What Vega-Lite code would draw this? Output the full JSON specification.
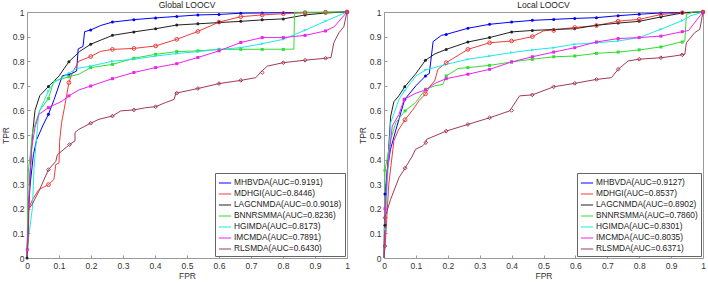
{
"$schema":"https://vega.github.io/schema/vega-lite/v6.json",
"padding":{"left":0,"top":0,"right":0,"bottom":0},
"background":"white",
"spacing":5,
"config":{
 "font":"Liberation Sans",
 "view":{"stroke":"#9a9a9a"},
 "axis":{"labelFont":"Liberation Sans","labelFontSize":8.5,"labelColor":"#333","titleFont":"Liberation Sans","titleFontSize":8.5,"titleFontWeight":"normal","titleColor":"#333","domainColor":"#9a9a9a","tickColor":"#9a9a9a","grid":false,"tickSize":-3,"labelPadding":6,"labelOverlap":false,"labelBound":false,"labelFlush":false},
 "axisX":{"titlePadding":2},
 "axisY":{"titlePadding":2},
 "title":{"fontSize":8.5,"font":"Liberation Sans","fontWeight":"normal","color":"#222","offset":-1.5},
 "legend":{"orient":"bottom-right","offset":2,"strokeColor":"#666","fillColor":"white","padding":3,"symbolType":"stroke","symbolSize":150,"symbolStrokeWidth":1,"labelFontSize":8.3,"labelFont":"Liberation Sans","labelColor":"#222","rowPadding":-1.5,"labelOffset":2,"title":null}
},
"datasets":{
"gAuc":[{"s":"MHBVDA","lab":"MHBVDA(AUC=0.9191)"},{"s":"MDHGI","lab":"MDHGI(AUC=0.8446)"},{"s":"LAGCNMDA","lab":"LAGCNMDA(AUC=0.0.9018)"},{"s":"BNNRSMMA","lab":"BNNRSMMA(AUC=0.8236)"},{"s":"HGIMDA","lab":"HGIMDA(AUC=0.8173)"},{"s":"IMCMDA","lab":"IMCMDA(AUC=0.7891)"},{"s":"RLSMDA","lab":"RLSMDA(AUC=0.6430)"}],
"lAuc":[{"s":"MHBVDA","lab":"MHBVDA(AUC=0.9127)"},{"s":"MDHGI","lab":"MDHGI(AUC=0.8537)"},{"s":"LAGCNMDA","lab":"LAGCNMDA(AUC=0.8902)"},{"s":"BNNRSMMA","lab":"BNNRSMMA(AUC=0.7860)"},{"s":"HGIMDA","lab":"HGIMDA(AUC=0.8301)"},{"s":"IMCMDA","lab":"IMCMDA(AUC=0.8035)"},{"s":"RLSMDA","lab":"RLSMDA(AUC=0.6371)"}],
"gLine":[
{"s":"MHBVDA","x":0,"y":0},{"s":"MHBVDA","x":0.005,"y":0.2},{"s":"MHBVDA","x":0.01,"y":0.3},{"s":"MHBVDA","x":0.02,"y":0.42},{"s":"MHBVDA","x":0.03,"y":0.48},{"s":"MHBVDA","x":0.05,"y":0.54},{"s":"MHBVDA","x":0.067,"y":0.584},{"s":"MHBVDA","x":0.085,"y":0.645},{"s":"MHBVDA","x":0.11,"y":0.74},{"s":"MHBVDA","x":0.14,"y":0.75},{"s":"MHBVDA","x":0.155,"y":0.76},{"s":"MHBVDA","x":0.16,"y":0.85},{"s":"MHBVDA","x":0.175,"y":0.86},{"s":"MHBVDA","x":0.18,"y":0.92},{"s":"MHBVDA","x":0.199,"y":0.927},{"s":"MHBVDA","x":0.23,"y":0.945},{"s":"MHBVDA","x":0.267,"y":0.959},{"s":"MHBVDA","x":0.334,"y":0.969},{"s":"MHBVDA","x":0.402,"y":0.976},{"s":"MHBVDA","x":0.468,"y":0.982},{"s":"MHBVDA","x":0.534,"y":0.988},{"s":"MHBVDA","x":0.6,"y":0.99},{"s":"MHBVDA","x":0.668,"y":0.995},{"s":"MHBVDA","x":0.8,"y":0.997},{"s":"MHBVDA","x":0.93,"y":0.998},{"s":"MHBVDA","x":1,"y":1},
{"s":"MDHGI","x":0,"y":0},{"s":"MDHGI","x":0.002,"y":0.1},{"s":"MDHGI","x":0.004,"y":0.197},{"s":"MDHGI","x":0.017,"y":0.237},{"s":"MDHGI","x":0.037,"y":0.278},{"s":"MDHGI","x":0.067,"y":0.298},{"s":"MDHGI","x":0.084,"y":0.319},{"s":"MDHGI","x":0.09,"y":0.38},{"s":"MDHGI","x":0.1,"y":0.386},{"s":"MDHGI","x":0.102,"y":0.474},{"s":"MDHGI","x":0.108,"y":0.55},{"s":"MDHGI","x":0.116,"y":0.604},{"s":"MDHGI","x":0.131,"y":0.713},{"s":"MDHGI","x":0.142,"y":0.754},{"s":"MDHGI","x":0.162,"y":0.8},{"s":"MDHGI","x":0.199,"y":0.819},{"s":"MDHGI","x":0.23,"y":0.84},{"s":"MDHGI","x":0.267,"y":0.848},{"s":"MDHGI","x":0.334,"y":0.852},{"s":"MDHGI","x":0.402,"y":0.862},{"s":"MDHGI","x":0.468,"y":0.889},{"s":"MDHGI","x":0.534,"y":0.921},{"s":"MDHGI","x":0.6,"y":0.959},{"s":"MDHGI","x":0.668,"y":0.981},{"s":"MDHGI","x":0.735,"y":0.988},{"s":"MDHGI","x":0.801,"y":0.993},{"s":"MDHGI","x":0.869,"y":0.997},{"s":"MDHGI","x":1,"y":1},
{"s":"LAGCNMDA","x":0,"y":0},{"s":"LAGCNMDA","x":0.003,"y":0.15},{"s":"LAGCNMDA","x":0.01,"y":0.35},{"s":"LAGCNMDA","x":0.017,"y":0.5},{"s":"LAGCNMDA","x":0.025,"y":0.6},{"s":"LAGCNMDA","x":0.04,"y":0.66},{"s":"LAGCNMDA","x":0.067,"y":0.697},{"s":"LAGCNMDA","x":0.1,"y":0.74},{"s":"LAGCNMDA","x":0.131,"y":0.798},{"s":"LAGCNMDA","x":0.165,"y":0.84},{"s":"LAGCNMDA","x":0.199,"y":0.869},{"s":"LAGCNMDA","x":0.267,"y":0.905},{"s":"LAGCNMDA","x":0.334,"y":0.919},{"s":"LAGCNMDA","x":0.402,"y":0.932},{"s":"LAGCNMDA","x":0.468,"y":0.947},{"s":"LAGCNMDA","x":0.534,"y":0.952},{"s":"LAGCNMDA","x":0.6,"y":0.957},{"s":"LAGCNMDA","x":0.668,"y":0.962},{"s":"LAGCNMDA","x":0.735,"y":0.968},{"s":"LAGCNMDA","x":0.801,"y":0.972},{"s":"LAGCNMDA","x":0.869,"y":0.988},{"s":"LAGCNMDA","x":0.933,"y":0.996},{"s":"LAGCNMDA","x":1,"y":1},
{"s":"BNNRSMMA","x":0,"y":0},{"s":"BNNRSMMA","x":0.002,"y":0.2},{"s":"BNNRSMMA","x":0.004,"y":0.35},{"s":"BNNRSMMA","x":0.01,"y":0.42},{"s":"BNNRSMMA","x":0.017,"y":0.51},{"s":"BNNRSMMA","x":0.04,"y":0.6},{"s":"BNNRSMMA","x":0.067,"y":0.648},{"s":"BNNRSMMA","x":0.084,"y":0.72},{"s":"BNNRSMMA","x":0.105,"y":0.726},{"s":"BNNRSMMA","x":0.131,"y":0.737},{"s":"BNNRSMMA","x":0.162,"y":0.747},{"s":"BNNRSMMA","x":0.199,"y":0.774},{"s":"BNNRSMMA","x":0.267,"y":0.787},{"s":"BNNRSMMA","x":0.334,"y":0.812},{"s":"BNNRSMMA","x":0.402,"y":0.828},{"s":"BNNRSMMA","x":0.468,"y":0.839},{"s":"BNNRSMMA","x":0.534,"y":0.842},{"s":"BNNRSMMA","x":0.6,"y":0.848},{"s":"BNNRSMMA","x":0.834,"y":0.849},{"s":"BNNRSMMA","x":0.836,"y":0.999},{"s":"BNNRSMMA","x":0.869,"y":0.999},{"s":"BNNRSMMA","x":1,"y":1},
{"s":"HGIMDA","x":0,"y":0},{"s":"HGIMDA","x":0.003,"y":0.05},{"s":"HGIMDA","x":0.006,"y":0.095},{"s":"HGIMDA","x":0.017,"y":0.205},{"s":"HGIMDA","x":0.022,"y":0.366},{"s":"HGIMDA","x":0.027,"y":0.447},{"s":"HGIMDA","x":0.037,"y":0.591},{"s":"HGIMDA","x":0.067,"y":0.679},{"s":"HGIMDA","x":0.084,"y":0.713},{"s":"HGIMDA","x":0.105,"y":0.73},{"s":"HGIMDA","x":0.131,"y":0.751},{"s":"HGIMDA","x":0.155,"y":0.77},{"s":"HGIMDA","x":0.199,"y":0.78},{"s":"HGIMDA","x":0.267,"y":0.8},{"s":"HGIMDA","x":0.334,"y":0.808},{"s":"HGIMDA","x":0.402,"y":0.821},{"s":"HGIMDA","x":0.468,"y":0.831},{"s":"HGIMDA","x":0.534,"y":0.839},{"s":"HGIMDA","x":0.6,"y":0.848},{"s":"HGIMDA","x":0.668,"y":0.855},{"s":"HGIMDA","x":0.735,"y":0.871},{"s":"HGIMDA","x":0.801,"y":0.889},{"s":"HGIMDA","x":0.869,"y":0.926},{"s":"HGIMDA","x":0.933,"y":0.963},{"s":"HGIMDA","x":1,"y":1},
{"s":"IMCMDA","x":0,"y":0},{"s":"IMCMDA","x":0.001,"y":0.034},{"s":"IMCMDA","x":0.005,"y":0.2},{"s":"IMCMDA","x":0.01,"y":0.35},{"s":"IMCMDA","x":0.015,"y":0.45},{"s":"IMCMDA","x":0.025,"y":0.53},{"s":"IMCMDA","x":0.037,"y":0.584},{"s":"IMCMDA","x":0.067,"y":0.611},{"s":"IMCMDA","x":0.11,"y":0.638},{"s":"IMCMDA","x":0.131,"y":0.659},{"s":"IMCMDA","x":0.162,"y":0.683},{"s":"IMCMDA","x":0.199,"y":0.699},{"s":"IMCMDA","x":0.267,"y":0.729},{"s":"IMCMDA","x":0.334,"y":0.754},{"s":"IMCMDA","x":0.402,"y":0.774},{"s":"IMCMDA","x":0.468,"y":0.79},{"s":"IMCMDA","x":0.534,"y":0.815},{"s":"IMCMDA","x":0.6,"y":0.842},{"s":"IMCMDA","x":0.668,"y":0.876},{"s":"IMCMDA","x":0.735,"y":0.896},{"s":"IMCMDA","x":0.801,"y":0.896},{"s":"IMCMDA","x":0.869,"y":0.905},{"s":"IMCMDA","x":0.933,"y":0.923},{"s":"IMCMDA","x":0.96,"y":0.94},{"s":"IMCMDA","x":1,"y":1},
{"s":"RLSMDA","x":0,"y":0},{"s":"RLSMDA","x":0.004,"y":0.08},{"s":"RLSMDA","x":0.006,"y":0.2},{"s":"RLSMDA","x":0.017,"y":0.22},{"s":"RLSMDA","x":0.037,"y":0.271},{"s":"RLSMDA","x":0.067,"y":0.359},{"s":"RLSMDA","x":0.09,"y":0.393},{"s":"RLSMDA","x":0.095,"y":0.42},{"s":"RLSMDA","x":0.133,"y":0.461},{"s":"RLSMDA","x":0.15,"y":0.476},{"s":"RLSMDA","x":0.15,"y":0.51},{"s":"RLSMDA","x":0.162,"y":0.523},{"s":"RLSMDA","x":0.199,"y":0.548},{"s":"RLSMDA","x":0.225,"y":0.564},{"s":"RLSMDA","x":0.267,"y":0.577},{"s":"RLSMDA","x":0.293,"y":0.598},{"s":"RLSMDA","x":0.334,"y":0.602},{"s":"RLSMDA","x":0.371,"y":0.611},{"s":"RLSMDA","x":0.402,"y":0.615},{"s":"RLSMDA","x":0.433,"y":0.632},{"s":"RLSMDA","x":0.46,"y":0.645},{"s":"RLSMDA","x":0.465,"y":0.67},{"s":"RLSMDA","x":0.534,"y":0.689},{"s":"RLSMDA","x":0.6,"y":0.709},{"s":"RLSMDA","x":0.668,"y":0.722},{"s":"RLSMDA","x":0.715,"y":0.733},{"s":"RLSMDA","x":0.73,"y":0.755},{"s":"RLSMDA","x":0.751,"y":0.78},{"s":"RLSMDA","x":0.801,"y":0.794},{"s":"RLSMDA","x":0.869,"y":0.804},{"s":"RLSMDA","x":0.933,"y":0.812},{"s":"RLSMDA","x":0.95,"y":0.815},{"s":"RLSMDA","x":0.959,"y":0.876},{"s":"RLSMDA","x":0.975,"y":0.916},{"s":"RLSMDA","x":0.99,"y":0.94},{"s":"RLSMDA","x":1,"y":1}
],
"gMark":[
{"s":"MHBVDA","x":0.067,"y":0.584},{"s":"MHBVDA","x":0.131,"y":0.745},{"s":"MHBVDA","x":0.199,"y":0.927},{"s":"MHBVDA","x":0.267,"y":0.959},{"s":"MHBVDA","x":0.334,"y":0.969},{"s":"MHBVDA","x":0.402,"y":0.976},{"s":"MHBVDA","x":0.468,"y":0.982},{"s":"MHBVDA","x":0.534,"y":0.988},{"s":"MHBVDA","x":0.6,"y":0.99},{"s":"MHBVDA","x":0.668,"y":0.995},{"s":"MHBVDA","x":0.735,"y":0.996},{"s":"MHBVDA","x":0.801,"y":0.997},{"s":"MHBVDA","x":0.869,"y":0.998},{"s":"MHBVDA","x":0.933,"y":0.999},{"s":"MHBVDA","x":1,"y":1},
{"s":"MDHGI","x":0.067,"y":0.298},{"s":"MDHGI","x":0.131,"y":0.713},{"s":"MDHGI","x":0.199,"y":0.819},{"s":"MDHGI","x":0.267,"y":0.848},{"s":"MDHGI","x":0.334,"y":0.852},{"s":"MDHGI","x":0.402,"y":0.862},{"s":"MDHGI","x":0.468,"y":0.889},{"s":"MDHGI","x":0.534,"y":0.921},{"s":"MDHGI","x":0.6,"y":0.959},{"s":"MDHGI","x":0.668,"y":0.981},{"s":"MDHGI","x":0.735,"y":0.988},{"s":"MDHGI","x":0.801,"y":0.993},{"s":"MDHGI","x":0.869,"y":0.997},{"s":"MDHGI","x":0.933,"y":0.999},{"s":"MDHGI","x":1,"y":1},
{"s":"LAGCNMDA","x":0,"y":0},{"s":"LAGCNMDA","x":0.067,"y":0.697},{"s":"LAGCNMDA","x":0.131,"y":0.798},{"s":"LAGCNMDA","x":0.199,"y":0.869},{"s":"LAGCNMDA","x":0.267,"y":0.905},{"s":"LAGCNMDA","x":0.334,"y":0.919},{"s":"LAGCNMDA","x":0.402,"y":0.932},{"s":"LAGCNMDA","x":0.468,"y":0.947},{"s":"LAGCNMDA","x":0.534,"y":0.952},{"s":"LAGCNMDA","x":0.6,"y":0.957},{"s":"LAGCNMDA","x":0.668,"y":0.962},{"s":"LAGCNMDA","x":0.735,"y":0.968},{"s":"LAGCNMDA","x":0.801,"y":0.972},{"s":"LAGCNMDA","x":0.869,"y":0.988},{"s":"LAGCNMDA","x":0.933,"y":0.996},{"s":"LAGCNMDA","x":1,"y":1},
{"s":"BNNRSMMA","x":0.067,"y":0.648},{"s":"BNNRSMMA","x":0.131,"y":0.737},{"s":"BNNRSMMA","x":0.199,"y":0.774},{"s":"BNNRSMMA","x":0.267,"y":0.787},{"s":"BNNRSMMA","x":0.334,"y":0.812},{"s":"BNNRSMMA","x":0.402,"y":0.828},{"s":"BNNRSMMA","x":0.468,"y":0.839},{"s":"BNNRSMMA","x":0.534,"y":0.842},{"s":"BNNRSMMA","x":0.6,"y":0.848},{"s":"BNNRSMMA","x":0.668,"y":0.848},{"s":"BNNRSMMA","x":0.735,"y":0.848},{"s":"BNNRSMMA","x":0.801,"y":0.848},{"s":"BNNRSMMA","x":0.869,"y":0.999},{"s":"BNNRSMMA","x":0.933,"y":1},{"s":"BNNRSMMA","x":1,"y":1},
{"s":"HGIMDA","x":0.067,"y":0.679},{"s":"HGIMDA","x":0.131,"y":0.751},{"s":"HGIMDA","x":0.199,"y":0.78},{"s":"HGIMDA","x":0.267,"y":0.8},{"s":"HGIMDA","x":0.334,"y":0.808},{"s":"HGIMDA","x":0.402,"y":0.821},{"s":"HGIMDA","x":0.468,"y":0.831},{"s":"HGIMDA","x":0.534,"y":0.839},{"s":"HGIMDA","x":0.6,"y":0.848},{"s":"HGIMDA","x":0.668,"y":0.855},{"s":"HGIMDA","x":0.735,"y":0.871},{"s":"HGIMDA","x":0.801,"y":0.889},{"s":"HGIMDA","x":0.869,"y":0.926},{"s":"HGIMDA","x":0.933,"y":0.963},{"s":"HGIMDA","x":1,"y":1},
{"s":"IMCMDA","x":0.001,"y":0.034},{"s":"IMCMDA","x":0.067,"y":0.611},{"s":"IMCMDA","x":0.131,"y":0.659},{"s":"IMCMDA","x":0.199,"y":0.699},{"s":"IMCMDA","x":0.267,"y":0.729},{"s":"IMCMDA","x":0.334,"y":0.754},{"s":"IMCMDA","x":0.402,"y":0.774},{"s":"IMCMDA","x":0.468,"y":0.79},{"s":"IMCMDA","x":0.534,"y":0.815},{"s":"IMCMDA","x":0.6,"y":0.842},{"s":"IMCMDA","x":0.668,"y":0.876},{"s":"IMCMDA","x":0.735,"y":0.896},{"s":"IMCMDA","x":0.801,"y":0.896},{"s":"IMCMDA","x":0.869,"y":0.905},{"s":"IMCMDA","x":0.933,"y":0.923},{"s":"IMCMDA","x":1,"y":1},
{"s":"RLSMDA","x":0.067,"y":0.359},{"s":"RLSMDA","x":0.133,"y":0.461},{"s":"RLSMDA","x":0.199,"y":0.548},{"s":"RLSMDA","x":0.267,"y":0.577},{"s":"RLSMDA","x":0.334,"y":0.602},{"s":"RLSMDA","x":0.402,"y":0.615},{"s":"RLSMDA","x":0.468,"y":0.67},{"s":"RLSMDA","x":0.534,"y":0.689},{"s":"RLSMDA","x":0.6,"y":0.709},{"s":"RLSMDA","x":0.668,"y":0.722},{"s":"RLSMDA","x":0.735,"y":0.754},{"s":"RLSMDA","x":0.801,"y":0.794},{"s":"RLSMDA","x":0.869,"y":0.804},{"s":"RLSMDA","x":0.933,"y":0.812},{"s":"RLSMDA","x":1,"y":1}
],
"lLine":[
{"s":"MHBVDA","x":0,"y":0},{"s":"MHBVDA","x":0.003,"y":0.26},{"s":"MHBVDA","x":0.01,"y":0.35},{"s":"MHBVDA","x":0.02,"y":0.44},{"s":"MHBVDA","x":0.037,"y":0.52},{"s":"MHBVDA","x":0.065,"y":0.645},{"s":"MHBVDA","x":0.1,"y":0.7},{"s":"MHBVDA","x":0.13,"y":0.74},{"s":"MHBVDA","x":0.142,"y":0.75},{"s":"MHBVDA","x":0.154,"y":0.88},{"s":"MHBVDA","x":0.18,"y":0.905},{"s":"MHBVDA","x":0.195,"y":0.909},{"s":"MHBVDA","x":0.263,"y":0.934},{"s":"MHBVDA","x":0.331,"y":0.95},{"s":"MHBVDA","x":0.4,"y":0.959},{"s":"MHBVDA","x":0.465,"y":0.966},{"s":"MHBVDA","x":0.532,"y":0.97},{"s":"MHBVDA","x":0.598,"y":0.974},{"s":"MHBVDA","x":0.666,"y":0.977},{"s":"MHBVDA","x":0.734,"y":0.985},{"s":"MHBVDA","x":0.8,"y":0.991},{"s":"MHBVDA","x":0.868,"y":0.996},{"s":"MHBVDA","x":0.935,"y":0.998},{"s":"MHBVDA","x":1,"y":1},
{"s":"MDHGI","x":0,"y":0},{"s":"MDHGI","x":0.006,"y":0.1},{"s":"MDHGI","x":0.015,"y":0.3},{"s":"MDHGI","x":0.031,"y":0.476},{"s":"MDHGI","x":0.045,"y":0.52},{"s":"MDHGI","x":0.066,"y":0.562},{"s":"MDHGI","x":0.089,"y":0.6},{"s":"MDHGI","x":0.11,"y":0.64},{"s":"MDHGI","x":0.13,"y":0.667},{"s":"MDHGI","x":0.145,"y":0.7},{"s":"MDHGI","x":0.159,"y":0.72},{"s":"MDHGI","x":0.169,"y":0.767},{"s":"MDHGI","x":0.195,"y":0.794},{"s":"MDHGI","x":0.263,"y":0.848},{"s":"MDHGI","x":0.331,"y":0.875},{"s":"MDHGI","x":0.4,"y":0.882},{"s":"MDHGI","x":0.465,"y":0.9},{"s":"MDHGI","x":0.5,"y":0.923},{"s":"MDHGI","x":0.598,"y":0.937},{"s":"MDHGI","x":0.666,"y":0.945},{"s":"MDHGI","x":0.734,"y":0.963},{"s":"MDHGI","x":0.8,"y":0.97},{"s":"MDHGI","x":0.868,"y":0.99},{"s":"MDHGI","x":0.935,"y":0.997},{"s":"MDHGI","x":1,"y":1},
{"s":"LAGCNMDA","x":0,"y":0},{"s":"LAGCNMDA","x":0.003,"y":0.133},{"s":"LAGCNMDA","x":0.01,"y":0.35},{"s":"LAGCNMDA","x":0.021,"y":0.577},{"s":"LAGCNMDA","x":0.031,"y":0.635},{"s":"LAGCNMDA","x":0.047,"y":0.66},{"s":"LAGCNMDA","x":0.065,"y":0.696},{"s":"LAGCNMDA","x":0.1,"y":0.75},{"s":"LAGCNMDA","x":0.13,"y":0.804},{"s":"LAGCNMDA","x":0.16,"y":0.83},{"s":"LAGCNMDA","x":0.195,"y":0.848},{"s":"LAGCNMDA","x":0.263,"y":0.878},{"s":"LAGCNMDA","x":0.331,"y":0.896},{"s":"LAGCNMDA","x":0.4,"y":0.919},{"s":"LAGCNMDA","x":0.465,"y":0.925},{"s":"LAGCNMDA","x":0.532,"y":0.929},{"s":"LAGCNMDA","x":0.598,"y":0.932},{"s":"LAGCNMDA","x":0.666,"y":0.946},{"s":"LAGCNMDA","x":0.734,"y":0.955},{"s":"LAGCNMDA","x":0.8,"y":0.962},{"s":"LAGCNMDA","x":0.868,"y":0.98},{"s":"LAGCNMDA","x":0.935,"y":0.996},{"s":"LAGCNMDA","x":1,"y":1},
{"s":"BNNRSMMA","x":0,"y":0},{"s":"BNNRSMMA","x":0.003,"y":0.356},{"s":"BNNRSMMA","x":0.021,"y":0.482},{"s":"BNNRSMMA","x":0.037,"y":0.55},{"s":"BNNRSMMA","x":0.066,"y":0.598},{"s":"BNNRSMMA","x":0.099,"y":0.632},{"s":"BNNRSMMA","x":0.13,"y":0.686},{"s":"BNNRSMMA","x":0.16,"y":0.7},{"s":"BNNRSMMA","x":0.185,"y":0.706},{"s":"BNNRSMMA","x":0.195,"y":0.74},{"s":"BNNRSMMA","x":0.232,"y":0.77},{"s":"BNNRSMMA","x":0.263,"y":0.774},{"s":"BNNRSMMA","x":0.331,"y":0.783},{"s":"BNNRSMMA","x":0.4,"y":0.797},{"s":"BNNRSMMA","x":0.465,"y":0.808},{"s":"BNNRSMMA","x":0.532,"y":0.818},{"s":"BNNRSMMA","x":0.598,"y":0.821},{"s":"BNNRSMMA","x":0.666,"y":0.832},{"s":"BNNRSMMA","x":0.734,"y":0.837},{"s":"BNNRSMMA","x":0.8,"y":0.846},{"s":"BNNRSMMA","x":0.868,"y":0.858},{"s":"BNNRSMMA","x":0.909,"y":0.871},{"s":"BNNRSMMA","x":0.943,"y":0.882},{"s":"BNNRSMMA","x":0.948,"y":0.99},{"s":"BNNRSMMA","x":0.969,"y":1},{"s":"BNNRSMMA","x":1,"y":1},
{"s":"HGIMDA","x":0,"y":0},{"s":"HGIMDA","x":0.003,"y":0.117},{"s":"HGIMDA","x":0.01,"y":0.3},{"s":"HGIMDA","x":0.021,"y":0.55},{"s":"HGIMDA","x":0.047,"y":0.645},{"s":"HGIMDA","x":0.065,"y":0.68},{"s":"HGIMDA","x":0.1,"y":0.74},{"s":"HGIMDA","x":0.13,"y":0.764},{"s":"HGIMDA","x":0.195,"y":0.787},{"s":"HGIMDA","x":0.263,"y":0.808},{"s":"HGIMDA","x":0.331,"y":0.821},{"s":"HGIMDA","x":0.4,"y":0.835},{"s":"HGIMDA","x":0.465,"y":0.846},{"s":"HGIMDA","x":0.532,"y":0.855},{"s":"HGIMDA","x":0.598,"y":0.869},{"s":"HGIMDA","x":0.666,"y":0.875},{"s":"HGIMDA","x":0.734,"y":0.882},{"s":"HGIMDA","x":0.8,"y":0.896},{"s":"HGIMDA","x":0.868,"y":0.93},{"s":"HGIMDA","x":0.935,"y":0.965},{"s":"HGIMDA","x":0.96,"y":0.984},{"s":"HGIMDA","x":1,"y":1},
{"s":"IMCMDA","x":0,"y":0},{"s":"IMCMDA","x":0.003,"y":0.2},{"s":"IMCMDA","x":0.01,"y":0.35},{"s":"IMCMDA","x":0.026,"y":0.537},{"s":"IMCMDA","x":0.047,"y":0.584},{"s":"IMCMDA","x":0.063,"y":0.645},{"s":"IMCMDA","x":0.1,"y":0.67},{"s":"IMCMDA","x":0.13,"y":0.683},{"s":"IMCMDA","x":0.16,"y":0.71},{"s":"IMCMDA","x":0.195,"y":0.729},{"s":"IMCMDA","x":0.263,"y":0.747},{"s":"IMCMDA","x":0.331,"y":0.767},{"s":"IMCMDA","x":0.4,"y":0.797},{"s":"IMCMDA","x":0.465,"y":0.818},{"s":"IMCMDA","x":0.532,"y":0.837},{"s":"IMCMDA","x":0.598,"y":0.855},{"s":"IMCMDA","x":0.666,"y":0.878},{"s":"IMCMDA","x":0.734,"y":0.892},{"s":"IMCMDA","x":0.8,"y":0.896},{"s":"IMCMDA","x":0.868,"y":0.902},{"s":"IMCMDA","x":0.935,"y":0.92},{"s":"IMCMDA","x":0.955,"y":0.925},{"s":"IMCMDA","x":0.974,"y":0.957},{"s":"IMCMDA","x":1,"y":1},
{"s":"RLSMDA","x":0,"y":0},{"s":"RLSMDA","x":0.003,"y":0.049},{"s":"RLSMDA","x":0.003,"y":0.164},{"s":"RLSMDA","x":0.021,"y":0.239},{"s":"RLSMDA","x":0.047,"y":0.327},{"s":"RLSMDA","x":0.066,"y":0.365},{"s":"RLSMDA","x":0.089,"y":0.415},{"s":"RLSMDA","x":0.099,"y":0.442},{"s":"RLSMDA","x":0.12,"y":0.455},{"s":"RLSMDA","x":0.131,"y":0.469},{"s":"RLSMDA","x":0.133,"y":0.482},{"s":"RLSMDA","x":0.195,"y":0.516},{"s":"RLSMDA","x":0.263,"y":0.543},{"s":"RLSMDA","x":0.331,"y":0.57},{"s":"RLSMDA","x":0.394,"y":0.598},{"s":"RLSMDA","x":0.425,"y":0.659},{"s":"RLSMDA","x":0.465,"y":0.663},{"s":"RLSMDA","x":0.532,"y":0.696},{"s":"RLSMDA","x":0.598,"y":0.71},{"s":"RLSMDA","x":0.666,"y":0.726},{"s":"RLSMDA","x":0.713,"y":0.733},{"s":"RLSMDA","x":0.734,"y":0.767},{"s":"RLSMDA","x":0.765,"y":0.801},{"s":"RLSMDA","x":0.8,"y":0.808},{"s":"RLSMDA","x":0.868,"y":0.814},{"s":"RLSMDA","x":0.909,"y":0.821},{"s":"RLSMDA","x":0.943,"y":0.828},{"s":"RLSMDA","x":0.948,"y":0.875},{"s":"RLSMDA","x":0.974,"y":0.916},{"s":"RLSMDA","x":0.99,"y":0.93},{"s":"RLSMDA","x":1,"y":1}
],
"lMark":[
{"s":"MHBVDA","x":0.003,"y":0.26},{"s":"MHBVDA","x":0.065,"y":0.645},{"s":"MHBVDA","x":0.13,"y":0.74},{"s":"MHBVDA","x":0.195,"y":0.909},{"s":"MHBVDA","x":0.263,"y":0.934},{"s":"MHBVDA","x":0.331,"y":0.95},{"s":"MHBVDA","x":0.4,"y":0.959},{"s":"MHBVDA","x":0.465,"y":0.966},{"s":"MHBVDA","x":0.532,"y":0.97},{"s":"MHBVDA","x":0.598,"y":0.974},{"s":"MHBVDA","x":0.666,"y":0.977},{"s":"MHBVDA","x":0.734,"y":0.985},{"s":"MHBVDA","x":0.8,"y":0.991},{"s":"MHBVDA","x":0.868,"y":0.996},{"s":"MHBVDA","x":0.935,"y":0.998},{"s":"MHBVDA","x":1,"y":1},
{"s":"MDHGI","x":0.066,"y":0.562},{"s":"MDHGI","x":0.13,"y":0.667},{"s":"MDHGI","x":0.195,"y":0.794},{"s":"MDHGI","x":0.263,"y":0.848},{"s":"MDHGI","x":0.331,"y":0.875},{"s":"MDHGI","x":0.4,"y":0.882},{"s":"MDHGI","x":0.465,"y":0.9},{"s":"MDHGI","x":0.532,"y":0.925},{"s":"MDHGI","x":0.598,"y":0.937},{"s":"MDHGI","x":0.666,"y":0.945},{"s":"MDHGI","x":0.734,"y":0.963},{"s":"MDHGI","x":0.8,"y":0.97},{"s":"MDHGI","x":0.868,"y":0.99},{"s":"MDHGI","x":0.935,"y":0.997},{"s":"MDHGI","x":1,"y":1},
{"s":"LAGCNMDA","x":0.003,"y":0.133},{"s":"LAGCNMDA","x":0.065,"y":0.696},{"s":"LAGCNMDA","x":0.13,"y":0.804},{"s":"LAGCNMDA","x":0.195,"y":0.848},{"s":"LAGCNMDA","x":0.263,"y":0.878},{"s":"LAGCNMDA","x":0.331,"y":0.896},{"s":"LAGCNMDA","x":0.4,"y":0.919},{"s":"LAGCNMDA","x":0.465,"y":0.925},{"s":"LAGCNMDA","x":0.532,"y":0.929},{"s":"LAGCNMDA","x":0.598,"y":0.932},{"s":"LAGCNMDA","x":0.666,"y":0.946},{"s":"LAGCNMDA","x":0.734,"y":0.955},{"s":"LAGCNMDA","x":0.8,"y":0.962},{"s":"LAGCNMDA","x":0.868,"y":0.98},{"s":"LAGCNMDA","x":0.935,"y":0.996},{"s":"LAGCNMDA","x":1,"y":1},
{"s":"BNNRSMMA","x":0.003,"y":0.356},{"s":"BNNRSMMA","x":0.066,"y":0.598},{"s":"BNNRSMMA","x":0.13,"y":0.686},{"s":"BNNRSMMA","x":0.195,"y":0.74},{"s":"BNNRSMMA","x":0.263,"y":0.774},{"s":"BNNRSMMA","x":0.331,"y":0.783},{"s":"BNNRSMMA","x":0.4,"y":0.797},{"s":"BNNRSMMA","x":0.465,"y":0.808},{"s":"BNNRSMMA","x":0.532,"y":0.818},{"s":"BNNRSMMA","x":0.598,"y":0.821},{"s":"BNNRSMMA","x":0.666,"y":0.832},{"s":"BNNRSMMA","x":0.734,"y":0.837},{"s":"BNNRSMMA","x":0.8,"y":0.846},{"s":"BNNRSMMA","x":0.868,"y":0.858},{"s":"BNNRSMMA","x":0.935,"y":0.878},{"s":"BNNRSMMA","x":1,"y":1},
{"s":"HGIMDA","x":0.003,"y":0.117},{"s":"HGIMDA","x":0.065,"y":0.68},{"s":"HGIMDA","x":0.13,"y":0.764},{"s":"HGIMDA","x":0.195,"y":0.787},{"s":"HGIMDA","x":0.263,"y":0.808},{"s":"HGIMDA","x":0.331,"y":0.821},{"s":"HGIMDA","x":0.4,"y":0.835},{"s":"HGIMDA","x":0.465,"y":0.846},{"s":"HGIMDA","x":0.532,"y":0.855},{"s":"HGIMDA","x":0.598,"y":0.869},{"s":"HGIMDA","x":0.666,"y":0.875},{"s":"HGIMDA","x":0.734,"y":0.882},{"s":"HGIMDA","x":0.8,"y":0.896},{"s":"HGIMDA","x":0.868,"y":0.93},{"s":"HGIMDA","x":0.935,"y":0.965},{"s":"HGIMDA","x":1,"y":1},
{"s":"IMCMDA","x":0.003,"y":0.2},{"s":"IMCMDA","x":0.063,"y":0.645},{"s":"IMCMDA","x":0.13,"y":0.683},{"s":"IMCMDA","x":0.195,"y":0.729},{"s":"IMCMDA","x":0.263,"y":0.747},{"s":"IMCMDA","x":0.331,"y":0.767},{"s":"IMCMDA","x":0.4,"y":0.797},{"s":"IMCMDA","x":0.465,"y":0.818},{"s":"IMCMDA","x":0.532,"y":0.837},{"s":"IMCMDA","x":0.598,"y":0.855},{"s":"IMCMDA","x":0.666,"y":0.878},{"s":"IMCMDA","x":0.734,"y":0.892},{"s":"IMCMDA","x":0.8,"y":0.896},{"s":"IMCMDA","x":0.868,"y":0.902},{"s":"IMCMDA","x":0.935,"y":0.92},{"s":"IMCMDA","x":1,"y":1},
{"s":"RLSMDA","x":0.003,"y":0.049},{"s":"RLSMDA","x":0.003,"y":0.164},{"s":"RLSMDA","x":0.066,"y":0.365},{"s":"RLSMDA","x":0.131,"y":0.469},{"s":"RLSMDA","x":0.195,"y":0.516},{"s":"RLSMDA","x":0.263,"y":0.543},{"s":"RLSMDA","x":0.331,"y":0.57},{"s":"RLSMDA","x":0.4,"y":0.6},{"s":"RLSMDA","x":0.465,"y":0.663},{"s":"RLSMDA","x":0.532,"y":0.696},{"s":"RLSMDA","x":0.598,"y":0.71},{"s":"RLSMDA","x":0.666,"y":0.726},{"s":"RLSMDA","x":0.734,"y":0.767},{"s":"RLSMDA","x":0.8,"y":0.808},{"s":"RLSMDA","x":0.868,"y":0.814},{"s":"RLSMDA","x":0.935,"y":0.826},{"s":"RLSMDA","x":1,"y":1}
]
},
"hconcat":[
{
 "width":320,"height":246,"title":"Global LOOCV",
 "encoding":{
  "x":{"field":"x","type":"quantitative","scale":{"domain":[0,1],"nice":false},"axis":{"title":"FPR","values":[0,0.1,0.2,0.3,0.4,0.5,0.6,0.7,0.8,0.9,1],"format":"~g","labelOverlap":false}},
  "y":{"field":"y","type":"quantitative","scale":{"domain":[0,1],"nice":false},"axis":{"title":"TPR","values":[0,0.1,0.2,0.3,0.4,0.5,0.6,0.7,0.8,0.9,1],"format":"~g","labelOverlap":false}}
 },
 "layer":[
  {"data":{"name":"gLine"},
   "transform":[{"lookup":"s","from":{"data":{"name":"gAuc"},"key":"s","fields":["lab"]}}],
   "mark":{"type":"line","strokeWidth":1},
   "encoding":{
    "color":{"field":"lab","type":"nominal","scale":{"domain":["MHBVDA(AUC=0.9191)","MDHGI(AUC=0.8446)","LAGCNMDA(AUC=0.0.9018)","BNNRSMMA(AUC=0.8236)","HGIMDA(AUC=0.8173)","IMCMDA(AUC=0.7891)","RLSMDA(AUC=0.6430)"],"range":["#0000ff","#f03c3c","#222222","#33dd33","#1de9e9","#ee22ee","#a33a55"]}},
    "order":{"value":null}}},
  {"data":{"name":"gMark"},
   "transform":[{"lookup":"s","from":{"data":{"name":"gAuc"},"key":"s","fields":["lab"]}},{"filter":{"not":{"field":"s","oneOf":["MDHGI","RLSMDA"]}}}],
   "mark":{"type":"point","filled":true,"size":9,"opacity":1},
   "encoding":{
    "color":{"field":"lab","type":"nominal"},
    "shape":{"field":"s","type":"nominal","scale":{"domain":["MHBVDA","MDHGI","LAGCNMDA","BNNRSMMA","HGIMDA","IMCMDA","RLSMDA"],"range":["circle","circle","circle","square","triangle-right","square","diamond"]},"legend":null}}},
  {"data":{"name":"gMark"},
   "transform":[{"lookup":"s","from":{"data":{"name":"gAuc"},"key":"s","fields":["lab"]}},{"filter":{"field":"s","oneOf":["MDHGI","RLSMDA"]}}],
   "mark":{"type":"point","filled":false,"size":14,"strokeWidth":1,"opacity":1},
   "encoding":{
    "color":{"field":"lab","type":"nominal"},
    "shape":{"field":"s","type":"nominal","legend":null}}}
 ]
},
{
 "width":319,"height":246,"title":"Local LOOCV",
 "encoding":{
  "x":{"field":"x","type":"quantitative","scale":{"domain":[0,1],"nice":false},"axis":{"title":"FPR","values":[0,0.1,0.2,0.3,0.4,0.5,0.6,0.7,0.8,0.9,1],"format":"~g","labelOverlap":false}},
  "y":{"field":"y","type":"quantitative","scale":{"domain":[0,1],"nice":false},"axis":{"title":"TPR","values":[0,0.1,0.2,0.3,0.4,0.5,0.6,0.7,0.8,0.9,1],"format":"~g","labelOverlap":false}}
 },
 "layer":[
  {"data":{"name":"lLine"},
   "transform":[{"lookup":"s","from":{"data":{"name":"lAuc"},"key":"s","fields":["lab"]}}],
   "mark":{"type":"line","strokeWidth":1},
   "encoding":{
    "color":{"field":"lab","type":"nominal","scale":{"domain":["MHBVDA(AUC=0.9127)","MDHGI(AUC=0.8537)","LAGCNMDA(AUC=0.8902)","BNNRSMMA(AUC=0.7860)","HGIMDA(AUC=0.8301)","IMCMDA(AUC=0.8035)","RLSMDA(AUC=0.6371)"],"range":["#0000ff","#f03c3c","#222222","#33dd33","#1de9e9","#ee22ee","#a33a55"]}},
    "order":{"value":null}}},
  {"data":{"name":"lMark"},
   "transform":[{"lookup":"s","from":{"data":{"name":"lAuc"},"key":"s","fields":["lab"]}},{"filter":{"not":{"field":"s","oneOf":["MDHGI","RLSMDA"]}}}],
   "mark":{"type":"point","filled":true,"size":9,"opacity":1},
   "encoding":{
    "color":{"field":"lab","type":"nominal"},
    "shape":{"field":"s","type":"nominal","scale":{"domain":["MHBVDA","MDHGI","LAGCNMDA","BNNRSMMA","HGIMDA","IMCMDA","RLSMDA"],"range":["circle","circle","circle","square","triangle-right","square","diamond"]},"legend":null}}},
  {"data":{"name":"lMark"},
   "transform":[{"lookup":"s","from":{"data":{"name":"lAuc"},"key":"s","fields":["lab"]}},{"filter":{"field":"s","oneOf":["MDHGI","RLSMDA"]}}],
   "mark":{"type":"point","filled":false,"size":14,"strokeWidth":1,"opacity":1},
   "encoding":{
    "color":{"field":"lab","type":"nominal"},
    "shape":{"field":"s","type":"nominal","legend":null}}}
 ]
}
],
"resolve":{"scale":{"color":"independent","shape":"independent","x":"independent","y":"independent"},"legend":{"color":"independent"}}
}
